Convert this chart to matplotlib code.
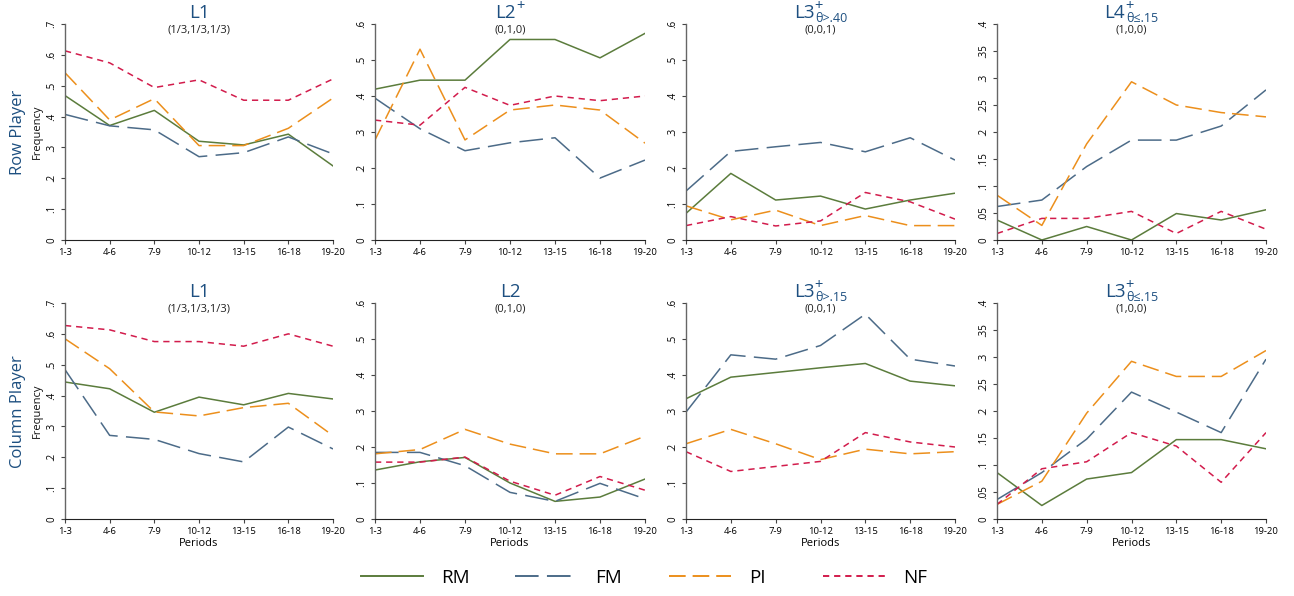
import matplotlib
matplotlib.use("Agg")
import matplotlib.pyplot as plt
from matplotlib.lines import Line2D

plt.rcParams['font.family'] = ['Open Sans', 'DejaVu Sans']
plt.rcParams['lines.scale_dashes'] = False

periods = ["1-3", "4-6", "7-9", "10-12", "13-15", "16-18", "19-20"]

# Row player panels
row_l1_rm = [0.468, 0.371, 0.420, 0.320, 0.308, 0.343, 0.240]
row_l1_fm = [0.407, 0.370, 0.357, 0.270, 0.283, 0.334, 0.279]
row_l1_pi = [0.542, 0.389, 0.458, 0.306, 0.306, 0.362, 0.460]
row_l1_nf = [0.613, 0.574, 0.494, 0.519, 0.453, 0.453, 0.522]

row_l2_rm = [0.419, 0.444, 0.444, 0.557, 0.557, 0.506, 0.574]
row_l2_fm = [0.394, 0.309, 0.248, 0.270, 0.284, 0.172, 0.222]
row_l2_pi = [0.278, 0.530, 0.278, 0.361, 0.375, 0.361, 0.269]
row_l2_nf = [0.333, 0.319, 0.424, 0.374, 0.400, 0.387, 0.400]

row_l3_rm = [0.074, 0.185, 0.111, 0.122, 0.086, 0.111, 0.130]
row_l3_fm = [0.136, 0.246, 0.259, 0.271, 0.245, 0.284, 0.222]
row_l3_pi = [0.095, 0.056, 0.083, 0.040, 0.068, 0.040, 0.040]
row_l3_nf = [0.040, 0.065, 0.039, 0.053, 0.132, 0.106, 0.058]

row_l4_rm = [0.037, 0.000, 0.025, 0.000, 0.049, 0.037, 0.056]
row_l4_fm = [0.062, 0.074, 0.136, 0.185, 0.185, 0.211, 0.278]
row_l4_pi = [0.083, 0.027, 0.178, 0.293, 0.250, 0.236, 0.228]
row_l4_nf = [0.012, 0.040, 0.040, 0.053, 0.012, 0.053, 0.020]

# Column player panels
col_l1_rm = [0.444, 0.422, 0.346, 0.395, 0.370, 0.407, 0.389]
col_l1_fm = [0.484, 0.271, 0.258, 0.212, 0.185, 0.298, 0.227]
col_l1_pi = [0.584, 0.487, 0.347, 0.334, 0.361, 0.375, 0.270]
col_l1_nf = [0.627, 0.613, 0.575, 0.575, 0.560, 0.600, 0.560]

col_l2_rm = [0.136, 0.159, 0.171, 0.100, 0.049, 0.061, 0.111]
col_l2_fm = [0.185, 0.185, 0.148, 0.074, 0.049, 0.099, 0.056]
col_l2_pi = [0.181, 0.193, 0.249, 0.208, 0.181, 0.181, 0.230]
col_l2_nf = [0.158, 0.158, 0.172, 0.105, 0.066, 0.118, 0.080]

col_l3_rm = [0.334, 0.394, 0.407, 0.420, 0.432, 0.383, 0.370]
col_l3_fm = [0.297, 0.456, 0.444, 0.482, 0.569, 0.444, 0.425]
col_l3_pi = [0.209, 0.249, 0.209, 0.165, 0.194, 0.181, 0.187]
col_l3_nf = [0.187, 0.132, 0.146, 0.160, 0.240, 0.214, 0.200]

col_l4_rm = [0.086, 0.025, 0.074, 0.086, 0.147, 0.147, 0.130]
col_l4_fm = [0.036, 0.086, 0.148, 0.235, 0.198, 0.160, 0.296]
col_l4_pi = [0.027, 0.070, 0.196, 0.292, 0.264, 0.264, 0.312]
col_l4_nf = [0.027, 0.093, 0.106, 0.160, 0.135, 0.068, 0.160]

# panel titles: (main, superscript, subscript)
titles_row = [("L1", "", ""), ("L2", "+", ""), ("L3", "+", "θ>.40"), ("L4", "+", "θ≤.15")]
titles_col = [("L1", "", ""), ("L2", "", ""), ("L3", "+", "θ>.15"), ("L3", "+", "θ≤.15")]
subtitles = ["(1/3,1/3,1/3)", "(0,1,0)", "(0,0,1)", "(1,0,0)"]
ymax = [0.7, 0.6, 0.6, 0.4]

series_names = ["RM", "FM", "PI", "NF"]
colors = {"RM": "#5b7c3c", "FM": "#4c6b88", "PI": "#ec8f1c", "NF": "#d21c4c"}
styles = {"RM": "-", "FM": (0, (17, 6)), "PI": (0, (12, 5)), "NF": (0, (4.5, 3.5))}

row_data = [
    [row_l1_rm, row_l1_fm, row_l1_pi, row_l1_nf],
    [row_l2_rm, row_l2_fm, row_l2_pi, row_l2_nf],
    [row_l3_rm, row_l3_fm, row_l3_pi, row_l3_nf],
    [row_l4_rm, row_l4_fm, row_l4_pi, row_l4_nf],
]
col_data = [
    [col_l1_rm, col_l1_fm, col_l1_pi, col_l1_nf],
    [col_l2_rm, col_l2_fm, col_l2_pi, col_l2_nf],
    [col_l3_rm, col_l3_fm, col_l3_pi, col_l3_nf],
    [col_l4_rm, col_l4_fm, col_l4_pi, col_l4_nf],
]

W, H = 1294, 596
fig = plt.figure(figsize=(W / 100, H / 100), dpi=100)

lefts = [65, 375, 686, 997]
widths = [268, 270, 269, 269]
tops = [24, 303]
ax_h = 216
title_blue = "#1d4f80"


def fmt_tick(v):
    if v == 0:
        return "0"
    return f"{v:.2f}".rstrip("0").lstrip("0")


def draw_panel(ax, data, ym, bottom_row):
    x = list(range(len(periods)))
    for name, vals in zip(series_names, data):
        ax.plot(x, vals, color=colors[name], linestyle=styles[name], linewidth=1.1)
    ax.set_xlim(0, len(periods) - 1)
    ax.set_ylim(0, ym)
    step = 0.05 if ym <= 0.4 else 0.1
    n = int(round(ym / step))
    yt = [round(i * step, 2) for i in range(n + 1)]
    ax.set_yticks(yt)
    ax.set_yticklabels([fmt_tick(v) for v in yt], rotation=90, va="center", fontsize=7)
    ax.set_xticks(x)
    ax.set_xticklabels(periods, fontsize=6.8)
    ax.tick_params(length=3, width=0.8, color="#444444", pad=2.5)
    for s in ["top", "right"]:
        ax.spines[s].set_visible(False)
    ax.spines["left"].set_color("#666666")
    ax.spines["bottom"].set_color("#222222")
    ax.spines["left"].set_linewidth(1.0)
    ax.spines["bottom"].set_linewidth(0.8)
    ax.patch.set_alpha(0)
    if bottom_row:
        ax.set_xlabel("Periods", fontsize=8, labelpad=2)


title_groups = []
for r, (top, data_set, titles) in enumerate(zip(tops, [row_data, col_data], [titles_row, titles_col])):
    for c in range(4):
        ax = fig.add_axes([lefts[c] / W, 1 - (top + ax_h) / H, widths[c] / W, ax_h / H])
        draw_panel(ax, data_set[c], ymax[c], r == 1)
        cx = (lefts[c] + widths[c] / 2) / W
        main_txt, sup_txt, sub_txt = titles[c]
        main = fig.text(cx, 1 - (top - 6) / H, main_txt, ha="left", va="baseline",
                        fontsize=13.5, color=title_blue)
        sup = None
        sub = None
        if sup_txt:
            sup = fig.text(0, 0, sup_txt, fontsize=10.5, color=title_blue,
                           ha="left", va="center")
        if sub_txt:
            sub = fig.text(0, 0, sub_txt, fontsize=9, color=title_blue,
                           ha="left", va="baseline")
        title_groups.append((cx * W, top, main, sup, sub))
        fig.text(cx, 1 - (top + 6) / H, subtitles[c], ha="center", va="center",
                 fontsize=8, color="#222222")

# place superscripts / subscripts next to the main title and center each block
fig.canvas.draw()
renderer = fig.canvas.get_renderer()
for cx_px, top, main, sup, sub in title_groups:
    mw = main.get_window_extent(renderer).width
    extra = 0
    if sup is not None:
        extra = max(extra, 1 + sup.get_window_extent(renderer).width)
    if sub is not None:
        extra = max(extra, 1 + sub.get_window_extent(renderer).width)
    x0 = cx_px - (mw + extra) / 2
    base = top - 6
    main.set_x(x0 / W)
    if sup is not None:
        sup.set_position(((x0 + mw + 0.5) / W, 1 - (base - 11) / H))
    if sub is not None:
        sub.set_position(((x0 + mw + 1) / W, 1 - (base + 4) / H))

fig.text(18 / W, 1 - 132 / H, "Row Player", rotation=90, ha="center", va="center",
         fontsize=12, color=title_blue)
fig.text(37 / W, 1 - 132 / H, "Frequency", rotation=90, ha="center", va="center",
         fontsize=8, color="#111111")
fig.text(18 / W, 1 - 412 / H, "Column Player", rotation=90, ha="center", va="center",
         fontsize=12, color=title_blue)
fig.text(37 / W, 1 - 411 / H, "Frequency", rotation=90, ha="center", va="center",
         fontsize=8, color="#111111")

# legend: one fixed-width column per series
legend_x = [361, 515, 669, 823]
for name, lx in zip(series_names, legend_x):
    h = Line2D([0], [0], color=colors[name], linestyle=styles[name], linewidth=1.4)
    fig.legend([h], [name], loc="center left", bbox_to_anchor=(lx / W, 1 - 578 / H),
               frameon=False, fontsize=13.5, handlelength=3.3, handletextpad=0.95,
               borderpad=0, borderaxespad=0)

fig.savefig("out.png", dpi=100)
